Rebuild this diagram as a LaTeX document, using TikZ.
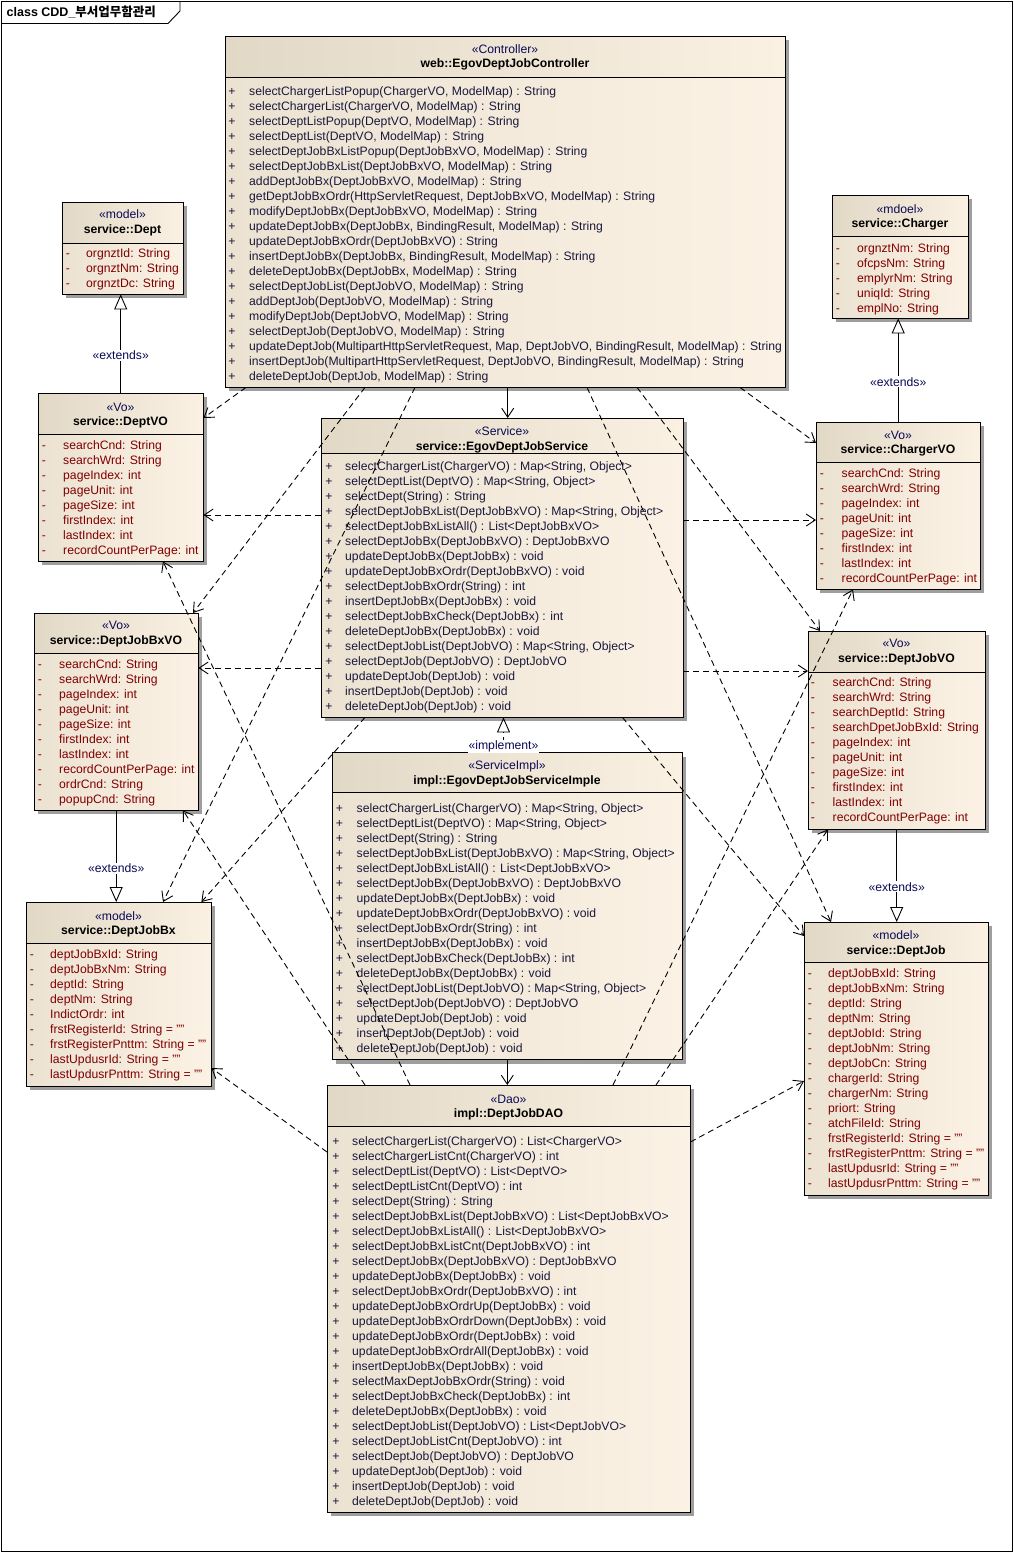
\documentclass[tikz,border=0pt]{standalone}
\usepackage{fontspec}
\setmainfont{Liberation Sans}
\newfontfamily\krfont{Noto Sans CJK KR}
\usetikzlibrary{arrows.meta,
                shadows}

\definecolor{headl}{RGB}{226,216,198}
\definecolor{headr}{RGB}{250,241,227}
\definecolor{bodyl}{RGB}{236,226,210}
\definecolor{bodyr}{RGB}{251,242,229}
\definecolor{stereoc}{RGB}{10,10,85}
\definecolor{attrc}{RGB}{128,0,0}
\definecolor{operc}{RGB}{25,25,60}

\newcommand{\svcoplist}{{selectChargerList(ChargerVO) : Map<String, Object>},
  {selectDeptList(DeptVO) : Map<String, Object>},
  selectDept(String) : String,
  {selectDeptJobBxList(DeptJobBxVO) : Map<String, Object>},
  selectDeptJobBxListAll() : List<DeptJobBxVO>,
  selectDeptJobBx(DeptJobBxVO) : DeptJobBxVO,
  updateDeptJobBx(DeptJobBx) : void,
  updateDeptJobBxOrdr(DeptJobBxVO) : void,
  selectDeptJobBxOrdr(String) : int,
  insertDeptJobBx(DeptJobBx) : void,
  selectDeptJobBxCheck(DeptJobBx) : int,
  deleteDeptJobBx(DeptJobBx) : void,
  {selectDeptJobList(DeptJobVO) : Map<String, Object>},
  selectDeptJob(DeptJobVO) : DeptJobVO,
  updateDeptJob(DeptJob) : void,
  insertDeptJob(DeptJob) : void,
  deleteDeptJob(DeptJob) : void}

\begin{document}
\begin{tikzpicture}[x=1pt, y=-1pt,
    every node/.style={inner sep=0pt, font=\fontsize{12.2pt}{15pt}\selectfont},
    classbox/.style={anchor=north west, left color=bodyl, right color=bodyr,
                     drop shadow={shadow xshift=4pt, shadow yshift=-4pt, fill=black!38, opacity=1}},
    header/.style={left color=headl, right color=headr},
    boxline/.style={line width=0.9pt},
    stereo/.style={anchor=base, text=stereoc},
    cname/.style={anchor=base, font=\fontsize{12.2pt}{15pt}\selectfont\bfseries},
    attsym/.style={anchor=base, text=attrc},
    att/.style={anchor=base west, text=attrc},
    opsym/.style={anchor=base, text=operc},
    op/.style={anchor=base west, text=operc},
    dep/.style={line width=0.9pt, dash pattern=on 6pt off 4pt, -{Straight Barb[length=9pt, width=12pt]}},
    assoc/.style={line width=0.9pt, -{Straight Barb[length=9pt, width=12pt]}},
    gen/.style={line width=0.9pt, -{Triangle[open, length=15pt, width=13pt]}},
    real/.style={gen, dash pattern=on 6pt off 4pt},
    tag/.style={fill=white, inner sep=1pt, text=stereoc}]
    \useasboundingbox (0,0) rectangle (1014,1553);

    % frame
    \draw[boxline] (1.5,1.5) rectangle (1012.5,1551.5);
    \draw[boxline] (1.5,23.5) -- (168,23.5) -- (180,11) -- (180,1.5);
    \node[anchor=base west, font=\fontsize{12.5pt}{15pt}\selectfont\bfseries] (title) at (6.5,16.5) {class CDD\_{\krfont 부서업무함관리}};

    % service::Dept
    \node[classbox, minimum width=121pt, minimum height=92pt] (dept) at (62,202) {};
    \shade[header] (62,202) rectangle (183,243);
    \draw[boxline] (62,202) rectangle (183,294) (62,243) -- (183,243);
    \node[stereo] (dept-st) at (122.5,218.8) {«model»};
    \node[cname] (dept-nm) at (122.5,233.1) {service::Dept};
    \foreach \a [count=\k from 0] in {orgnztId: String, orgnztNm: String, orgnztDc: String} {
        \node[attsym] (dept-s\k) at (68,257.8+15*\k) {-};
        \node[att] (dept-a\k) at (86,257.8+15*\k) {\a};
    }

    % service::Charger
    \node[classbox, minimum width=136pt, minimum height=123pt] (charger) at (832,195) {};
    \shade[header] (832,195) rectangle (968,236.7);
    \draw[boxline] (832,195) rectangle (968,318) (832,236.7) -- (968,236.7);
    \node[stereo] (charger-st) at (900,213.8) {«mdoel»};
    \node[cname] (charger-nm) at (900,227.1) {service::Charger};
    \foreach \a [count=\k from 0] in {orgnztNm: String, ofcpsNm: String, emplyrNm: String, uniqId: String, emplNo: String} {
        \node[attsym] (charger-s\k) at (838,252.1+15*\k) {-};
        \node[att] (charger-a\k) at (857,252.1+15*\k) {\a};
    }

    % service::ChargerVO
    \node[classbox, minimum width=164pt, minimum height=167pt] (chargervo) at (816,422) {};
    \shade[header] (816,422) rectangle (980,462.7);
    \draw[boxline] (816,422) rectangle (980,589) (816,462.7) -- (980,462.7);
    \node[stereo] (chargervo-st) at (898,439.8) {«Vo»};
    \node[cname] (chargervo-nm) at (898,453.8) {service::ChargerVO};
    \foreach \a [count=\k from 0] in {searchCnd: String, searchWrd: String, pageIndex: int, pageUnit: int,
                                      pageSize: int, firstIndex: int, lastIndex: int, recordCountPerPage: int} {
        \node[attsym] (chargervo-s\k) at (822,477.8+15*\k) {-};
        \node[att] (chargervo-a\k) at (841.5,477.8+15*\k) {\a};
    }

    % service::DeptVO
    \node[classbox, minimum width=165pt, minimum height=168pt] (deptvo) at (38,393) {};
    \shade[header] (38,393) rectangle (203,434);
    \draw[boxline] (38,393) rectangle (203,561) (38,434) -- (203,434);
    \node[stereo] (deptvo-st) at (120.5,411.5) {«Vo»};
    \node[cname] (deptvo-nm) at (120.5,425.5) {service::DeptVO};
    \foreach \a [count=\k from 0] in {searchCnd: String, searchWrd: String, pageIndex: int, pageUnit: int,
                                      pageSize: int, firstIndex: int, lastIndex: int, recordCountPerPage: int} {
        \node[attsym] (deptvo-s\k) at (44,449.8+15*\k) {-};
        \node[att] (deptvo-a\k) at (63,449.8+15*\k) {\a};
    }

    % service::DeptJobBxVO
    \node[classbox, minimum width=164pt, minimum height=197pt] (deptjobbxvo) at (34,613) {};
    \shade[header] (34,613) rectangle (198,653.3);
    \draw[boxline] (34,613) rectangle (198,810) (34,653.3) -- (198,653.3);
    \node[stereo] (deptjobbxvo-st) at (116,629.8) {«Vo»};
    \node[cname] (deptjobbxvo-nm) at (116,644.8) {service::DeptJobBxVO};
    \foreach \a [count=\k from 0] in {searchCnd: String, searchWrd: String, pageIndex: int, pageUnit: int,
                                      pageSize: int, firstIndex: int, lastIndex: int, recordCountPerPage: int,
                                      ordrCnd: String, popupCnd: String} {
        \node[attsym] (deptjobbxvo-s\k) at (40,668.8+15*\k) {-};
        \node[att] (deptjobbxvo-a\k) at (59,668.8+15*\k) {\a};
    }

    % service::DeptJobBx
    \node[classbox, minimum width=185pt, minimum height=184pt] (deptjobbx) at (26,902) {};
    \shade[header] (26,902) rectangle (211,943.3);
    \draw[boxline] (26,902) rectangle (211,1086) (26,943.3) -- (211,943.3);
    \node[stereo] (deptjobbx-st) at (118.5,920.5) {«model»};
    \node[cname] (deptjobbx-nm) at (118.5,934.5) {service::DeptJobBx};
    \foreach \a [count=\k from 0] in {deptJobBxId: String, deptJobBxNm: String, deptId: String, deptNm: String,
                                      IndictOrdr: int, frstRegisterId: String = "", frstRegisterPnttm: String = "",
                                      lastUpdusrId: String = "", lastUpdusrPnttm: String = ""} {
        \node[attsym] (deptjobbx-s\k) at (32,958.8+15*\k) {-};
        \node[att] (deptjobbx-a\k) at (50,958.8+15*\k) {\a};
    }

    % service::DeptJobVO
    \node[classbox, minimum width=177pt, minimum height=198pt] (deptjobvo) at (808,631) {};
    \shade[header] (808,631) rectangle (985,672);
    \draw[boxline] (808,631) rectangle (985,829) (808,672) -- (985,672);
    \node[stereo] (deptjobvo-st) at (896.5,647.8) {«Vo»};
    \node[cname] (deptjobvo-nm) at (896.5,662.8) {service::DeptJobVO};
    \foreach \a [count=\k from 0] in {searchCnd: String, searchWrd: String, searchDeptId: String,
                                      searchDpetJobBxId: String, pageIndex: int, pageUnit: int,
                                      pageSize: int, firstIndex: int, lastIndex: int, recordCountPerPage: int} {
        \node[attsym] (deptjobvo-s\k) at (813,686.8+15*\k) {-};
        \node[att] (deptjobvo-a\k) at (832.5,686.8+15*\k) {\a};
    }

    % service::DeptJob
    \node[classbox, minimum width=184pt, minimum height=273pt] (deptjob) at (804,922) {};
    \shade[header] (804,922) rectangle (988,962.6);
    \draw[boxline] (804,922) rectangle (988,1195) (804,962.6) -- (988,962.6);
    \node[stereo] (deptjob-st) at (896,939.8) {«model»};
    \node[cname] (deptjob-nm) at (896,954.5) {service::DeptJob};
    \foreach \a [count=\k from 0] in {deptJobBxId: String, deptJobBxNm: String, deptId: String, deptNm: String,
                                      deptJobId: String, deptJobNm: String, deptJobCn: String, chargerId: String,
                                      chargerNm: String, priort: String, atchFileId: String,
                                      frstRegisterId: String = "", frstRegisterPnttm: String = "",
                                      lastUpdusrId: String = "", lastUpdusrPnttm: String = ""} {
        \node[attsym] (deptjob-s\k) at (810,977.8+15*\k) {-};
        \node[att] (deptjob-a\k) at (828,977.8+15*\k) {\a};
    }

    % web::EgovDeptJobController
    \node[classbox, minimum width=560pt, minimum height=351pt] (ctrl) at (225,36) {};
    \shade[header] (225,36) rectangle (785,77);
    \draw[boxline] (225,36) rectangle (785,387) (225,77) -- (785,77);
    \node[stereo] (ctrl-st) at (505,53) {«Controller»};
    \node[cname] (ctrl-nm) at (505,67) {web::EgovDeptJobController};
    \foreach \m [count=\k from 0] in {{selectChargerListPopup(ChargerVO, ModelMap) : String},
            {selectChargerList(ChargerVO, ModelMap) : String},
            {selectDeptListPopup(DeptVO, ModelMap) : String},
            {selectDeptList(DeptVO, ModelMap) : String},
            {selectDeptJobBxListPopup(DeptJobBxVO, ModelMap) : String},
            {selectDeptJobBxList(DeptJobBxVO, ModelMap) : String},
            {addDeptJobBx(DeptJobBxVO, ModelMap) : String},
            {getDeptJobBxOrdr(HttpServletRequest, DeptJobBxVO, ModelMap) : String},
            {modifyDeptJobBx(DeptJobBxVO, ModelMap) : String},
            {updateDeptJobBx(DeptJobBx, BindingResult, ModelMap) : String},
            {updateDeptJobBxOrdr(DeptJobBxVO) : String},
            {insertDeptJobBx(DeptJobBx, BindingResult, ModelMap) : String},
            {deleteDeptJobBx(DeptJobBx, ModelMap) : String},
            {selectDeptJobList(DeptJobVO, ModelMap) : String},
            {addDeptJob(DeptJobVO, ModelMap) : String},
            {modifyDeptJob(DeptJobVO, ModelMap) : String},
            {selectDeptJob(DeptJobVO, ModelMap) : String},
            {updateDeptJob(MultipartHttpServletRequest, Map, DeptJobVO, BindingResult, ModelMap) : String},
            {insertDeptJob(MultipartHttpServletRequest, DeptJobVO, BindingResult, ModelMap) : String},
            {deleteDeptJob(DeptJob, ModelMap) : String}} {
        \node[opsym] (ctrl-s\k) at (232,95.5+15*\k) {+};
        \node[op] (ctrl-o\k) at (249,95.5+15*\k) {\m};
    }

    % service::EgovDeptJobService
    \node[classbox, minimum width=362pt, minimum height=299pt] (service) at (321,418) {};
    \shade[header] (321,418) rectangle (683,453.3);
    \draw[boxline] (321,418) rectangle (683,717) (321,453.3) -- (683,453.3);
    \node[stereo] (service-st) at (502,435.5) {«Service»};
    \node[cname] (service-nm) at (502,450.5) {service::EgovDeptJobService};
    \foreach \m [count=\k from 0] in \svcoplist {
        \node[opsym] (service-s\k) at (329,470.5+15*\k) {+};
        \node[op] (service-o\k) at (345,470.5+15*\k) {\m};
    }

    % impl::EgovDeptJobServiceImple
    \node[classbox, minimum width=350pt, minimum height=307pt] (serviceimpl) at (332,752.5) {};
    \shade[header] (332,752.5) rectangle (682,792.7);
    \draw[boxline] (332,752.5) rectangle (682,1059.5) (332,792.7) -- (682,792.7);
    \node[stereo] (serviceimpl-st) at (507,769.8) {«ServiceImpl»};
    \node[cname] (serviceimpl-nm) at (507,784.5) {impl::EgovDeptJobServiceImple};
    \foreach \m [count=\k from 0] in \svcoplist {
        \node[opsym] (serviceimpl-s\k) at (339.5,812.8+15*\k) {+};
        \node[op] (serviceimpl-o\k) at (356.5,812.8+15*\k) {\m};
    }

    % impl::DeptJobDAO
    \node[classbox, minimum width=363pt, minimum height=427pt] (dao) at (327,1085) {};
    \shade[header] (327,1085) rectangle (690,1126.7);
    \draw[boxline] (327,1085) rectangle (690,1512) (327,1126.7) -- (690,1126.7);
    \node[stereo] (dao-st) at (508.5,1103) {«Dao»};
    \node[cname] (dao-nm) at (508.5,1117) {impl::DeptJobDAO};
    \foreach \m [count=\k from 0] in {selectChargerList(ChargerVO) : List<ChargerVO>,
            selectChargerListCnt(ChargerVO) : int,
            selectDeptList(DeptVO) : List<DeptVO>,
            selectDeptListCnt(DeptVO) : int,
            selectDept(String) : String,
            selectDeptJobBxList(DeptJobBxVO) : List<DeptJobBxVO>,
            selectDeptJobBxListAll() : List<DeptJobBxVO>,
            selectDeptJobBxListCnt(DeptJobBxVO) : int,
            selectDeptJobBx(DeptJobBxVO) : DeptJobBxVO,
            updateDeptJobBx(DeptJobBx) : void,
            selectDeptJobBxOrdr(DeptJobBxVO) : int,
            updateDeptJobBxOrdrUp(DeptJobBx) : void,
            updateDeptJobBxOrdrDown(DeptJobBx) : void,
            updateDeptJobBxOrdr(DeptJobBx) : void,
            updateDeptJobBxOrdrAll(DeptJobBx) : void,
            insertDeptJobBx(DeptJobBx) : void,
            selectMaxDeptJobBxOrdr(String) : void,
            selectDeptJobBxCheck(DeptJobBx) : int,
            deleteDeptJobBx(DeptJobBx) : void,
            selectDeptJobList(DeptJobVO) : List<DeptJobVO>,
            selectDeptJobListCnt(DeptJobVO) : int,
            selectDeptJob(DeptJobVO) : DeptJobVO,
            updateDeptJob(DeptJob) : void,
            insertDeptJob(DeptJob) : void,
            deleteDeptJob(DeptJob) : void} {
        \node[opsym] (dao-s\k) at (336,1145.5+15*\k) {+};
        \node[op] (dao-o\k) at (352,1145.5+15*\k) {\m};
    }

    % extends
    \draw[gen] (deptvo.north) -- node[tag, pos=0.384] (ext1) {«extends»} (deptvo.north |- dept.south);
    \draw[gen] (chargervo.north) -- node[tag, pos=0.388] (ext2) {«extends»} (chargervo.north |- charger.south);
    \draw[gen] (deptjobbxvo.south) -- node[tag, pos=0.63] (ext3) {«extends»} (deptjobbxvo.south |- deptjobbx.north);
    \draw[gen] (deptjobvo.south) -- node[tag, pos=0.62] (ext4) {«extends»} (deptjobvo.south |- deptjob.north);

    % controller uses
    \draw[dep] ([xshift=21pt]ctrl.south west) -- ([yshift=-25pt]deptvo.north east);
    \draw[dep] ([xshift=140pt]ctrl.south west) -- ([xshift=159pt]deptjobbxvo.north west);
    \draw[dep] ([xshift=190pt]ctrl.south west) -- ([xshift=137pt]deptjobbx.north west);
    \draw[assoc] ([xshift=282.7pt]ctrl.south west) -- ([xshift=282.7pt]ctrl.south west |- service.north);
    \draw[dep] ([xshift=362pt]ctrl.south west) -- ([xshift=27pt]deptjob.north west);
    \draw[dep] ([xshift=412pt]ctrl.south west) -- ([xshift=12pt]deptjobvo.north west);
    \draw[dep] ([xshift=515pt]ctrl.south west) -- ([yshift=-21pt]chargervo.north west);

    % service uses
    \draw[dep] ([yshift=-97pt]service.north west) -- ([yshift=-97pt]service.north west -| deptvo.east);
    \draw[dep] ([yshift=-102pt]service.north east) -- ([yshift=-102pt]service.north east -| chargervo.west);
    \draw[dep] ([yshift=-250pt]service.north west) -- ([yshift=-250pt]service.north west -| deptjobbxvo.east);
    \draw[dep] ([yshift=-253pt]service.north east) -- ([yshift=-253pt]service.north east -| deptjobvo.west);
    \draw[dep] ([xshift=44pt]service.south west) -- ([xshift=-10pt]deptjobbx.north east);
    \draw[dep] ([xshift=-61pt]service.south east) -- ([yshift=-14pt]deptjob.north west);

    % implementation
    \draw[real] ([xshift=171.5pt]serviceimpl.north west) -- node[tag, pos=0.18] (impl1) {«implement»}
        ([xshift=171.5pt]serviceimpl.north west |- service.south);
    \draw[assoc] ([xshift=175.3pt]serviceimpl.south west) -- ([xshift=175.3pt]serviceimpl.south west |- dao.north);

    % dao uses
    \draw[dep] ([xshift=83pt]dao.north west) -- ([xshift=125pt]deptvo.south west);
    \draw[dep] ([xshift=38pt]dao.north west) -- ([xshift=149pt]deptjobbxvo.south west);
    \draw[dep] ([yshift=-67pt]dao.north west) -- ([yshift=-166pt]deptjobbx.north east);
    \draw[dep] ([xshift=286pt]dao.north west) -- ([xshift=37pt]chargervo.south west);
    \draw[dep] ([xshift=329pt]dao.north west) -- ([xshift=20pt]deptjobvo.south west);
    \draw[dep] ([yshift=-57pt]dao.north east) -- ([yshift=-159pt]deptjob.north west);
\end{tikzpicture}
\end{document}
